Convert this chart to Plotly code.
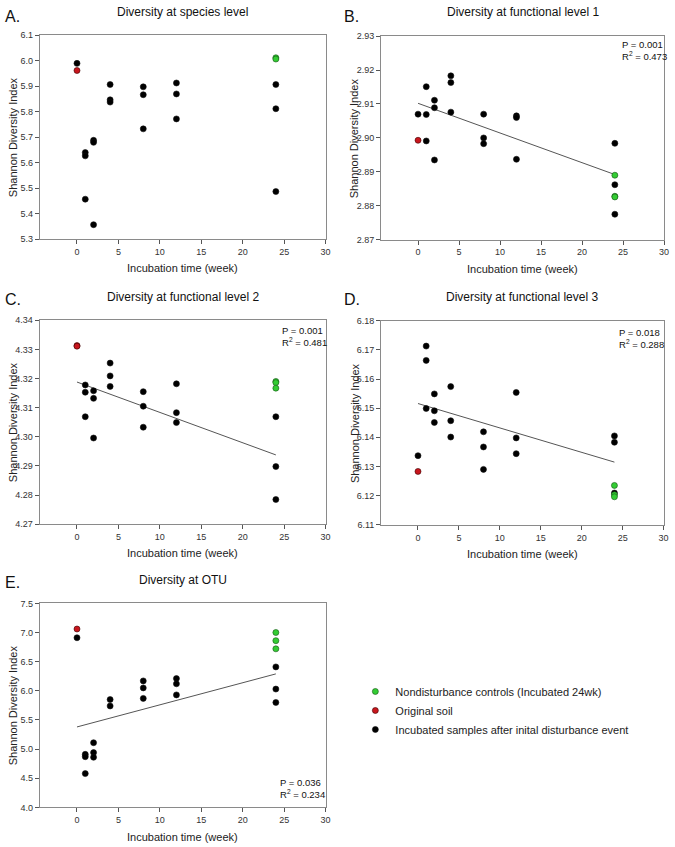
import plotly.graph_objects as go

W, H = 675, 847

# --- data ---
weeks_black = [0, 1, 1, 1, 2, 2, 2, 4, 4, 4, 8, 8, 8, 12, 12, 12, 24, 24, 24]
weeks_otu = [0, 1, 1, 1, 2, 2, 2, 4, 4, 8, 8, 8, 12, 12, 12, 24, 24, 24]
weeks_c = [1, 1, 1, 2, 2, 2, 4, 4, 4, 8, 8, 8, 12, 12, 12, 24, 24, 24]

species_black = [5.990, 5.640, 5.627, 5.457, 5.688, 5.680, 5.357, 5.907, 5.847, 5.838,
                 5.898, 5.867, 5.733, 5.913, 5.870, 5.772, 5.907, 5.812, 5.487]
species_red = [5.962]
species_green = [6.012, 6.007]

func1_black = [2.9070, 2.9151, 2.9069, 2.8991, 2.9111, 2.9089, 2.8935, 2.9183, 2.9163, 2.9076,
               2.9070, 2.9000, 2.8983, 2.9065, 2.9060, 2.8937, 2.8984, 2.8862, 2.8775]
func1_red = [2.8993]
func1_green = [2.8890, 2.8828, 2.8826]
func1_fit = [2.9102, 2.8892]

func2_black = [4.3178, 4.3153, 4.3069, 4.3158, 4.3132, 4.2996, 4.3253, 4.3209, 4.3173,
               4.3155, 4.3105, 4.3033, 4.3182, 4.3083, 4.3049, 4.3069, 4.2898, 4.2785]
func2_red = [4.3313, 4.3311]
func2_green = [4.3190, 4.3186, 4.3167]
func2_fit = [4.3188, 4.2938]

func3_black = [6.1337, 6.1713, 6.1664, 6.1499, 6.1549, 6.1491, 6.1451, 6.1574, 6.1457, 6.1401,
               6.1419, 6.1367, 6.1290, 6.1554, 6.1398, 6.1344, 6.1405, 6.1383, 6.1209]
func3_red = [6.1283]
func3_green = [6.1235, 6.1203, 6.1196]
func3_fit = [6.1516, 6.1315]

otu_black = [6.91, 4.91, 4.87, 4.58, 5.11, 4.94, 4.86, 5.85, 5.74, 6.17, 6.05, 5.87,
             6.21, 6.12, 5.93, 6.41, 6.03, 5.80]
otu_red = [7.06]
otu_green = [7.00, 6.86, 6.72]
otu_fit = [5.38, 6.29]

fit_weeks = [0, 24]

panels = [
    dict(letter="A.", title="Diversity at species level", xpx=(40, 328), ypx=(30.7, 237),
         yr=(5.3, 6.1), dt=0.1, bx=weeks_black, by=species_black,
         red=species_red, green=species_green, fit=None, stats=None),
    dict(letter="B.", title="Diversity at functional level 1", xpx=(384, 669), ypx=(31.5, 237.5),
         yr=(2.87, 2.93), dt=0.01, bx=weeks_black, by=func1_black,
         red=func1_red, green=func1_green, fit=func1_fit, stats=("0.001", "0.473", 625, 46)),
    dict(letter="C.", title="Diversity at functional level 2", xpx=(40, 328), ypx=(319, 525.5),
         yr=(4.27, 4.34), dt=0.01, bx=weeks_c, by=func2_black,
         red=func2_red, green=func2_green, fit=func2_fit, stats=("0.001", "0.481", 282, 335.5)),
    dict(letter="D.", title="Diversity at functional level 3", xpx=(384, 668.5), ypx=(319.5, 526),
         yr=(6.11, 6.18), dt=0.01, bx=weeks_black, by=func3_black,
         red=func3_red, green=func3_green, fit=func3_fit, stats=("0.018", "0.288", 622, 337)),
    dict(letter="E.", title="Diversity at OTU", xpx=(40, 328), ypx=(605.5, 812),
         yr=(4.0, 7.5), dt=0.5, bx=weeks_otu, by=otu_black,
         red=otu_red, green=otu_green, fit=otu_fit, stats=("0.036", "0.234", 280, 793)),
]

GREEN = "#33cc33"
RED = "#c8161d"
FONT = "Liberation Sans, Arial, sans-serif"


def px(x):
    return x / W


def py(y):
    return 1 - y / H


fig = go.Figure()
annotations = []
layout_axes = {}

for i, p in enumerate(panels):
    n = "" if i == 0 else str(i + 1)
    xa, ya = "x" + n, "y" + n
    x0, x1 = p["xpx"]
    top, bot = p["ypx"]

    yfmt = ".2f" if p["dt"] == 0.01 else ".1f"
    layout_axes["xaxis" + n] = dict(
        domain=[px(x0), px(x1)], anchor=ya, range=[-4.5, 30], tickvals=[0, 5, 10, 15, 20, 25, 30],
        showgrid=False, zeroline=False, showline=True, linecolor="#8a8a8a", linewidth=1,
        mirror=True, ticks="outside", ticklen=4, tickcolor="#555", tickwidth=1,
        ticklabeloverflow="allow",
        tickfont=dict(size=9, color="#333", family=FONT))
    layout_axes["yaxis" + n] = dict(
        domain=[py(bot), py(top)], anchor=xa, range=list(p["yr"]), dtick=p["dt"], tick0=p["yr"][0],
        tickformat=yfmt, showgrid=False, zeroline=False, showline=True, linecolor="#8a8a8a",
        linewidth=1, mirror=True, ticks="outside", ticklen=4, tickcolor="#555", tickwidth=1,
        ticklabeloverflow="allow",
        tickfont=dict(size=9, color="#333", family=FONT))

    if p["fit"] is not None:
        fig.add_trace(go.Scatter(x=fit_weeks, y=p["fit"], mode="lines", xaxis=xa, yaxis=ya,
                                 line=dict(color="#555555", width=1), showlegend=False))

    first = i == 0
    fig.add_trace(go.Scatter(x=p["bx"], y=p["by"], mode="markers", xaxis=xa, yaxis=ya,
                             name="Incubated samples after inital disturbance event",
                             legendrank=3, showlegend=first,
                             marker=dict(size=6, color="black", line=dict(color="#111", width=0.6))))
    fig.add_trace(go.Scatter(x=[0] * len(p["red"]), y=p["red"], mode="markers", xaxis=xa, yaxis=ya,
                             name="Original soil", legendrank=2, showlegend=first,
                             marker=dict(size=6, color=RED, line=dict(color="#3a0000", width=0.6))))
    fig.add_trace(go.Scatter(x=[24] * len(p["green"]), y=p["green"], mode="markers", xaxis=xa, yaxis=ya,
                             name="Nondisturbance controls (Incubated 24wk)", legendrank=1,
                             showlegend=first,
                             marker=dict(size=6, color=GREEN, line=dict(color="#145214", width=0.6))))

    # panel title, letter, axis titles
    annotations.append(dict(text=p["title"], x=px((x0 + x1) / 2), y=py(7 if top < 100 else top - 24),
                            xref="paper", yref="paper", showarrow=False, xanchor="center",
                            yanchor="middle", font=dict(size=12, color="#111", family=FONT)))
    lx = 3 if x0 < 100 else 345
    annotations.append(dict(text=p["letter"], x=px(lx), y=py(top - 21 if top > 100 else 12),
                            xref="paper", yref="paper", showarrow=False, xanchor="left",
                            yanchor="middle", font=dict(size=16, color="#111", family=FONT)))
    annotations.append(dict(text="Incubation time (week)", x=px((x0 + x1) / 2), y=py(bot + 29.5),
                            xref="paper", yref="paper", showarrow=False, xanchor="center",
                            yanchor="middle", font=dict(size=11, color="#222", family=FONT)))
    annotations.append(dict(text="Shannon Diversity Index", x=px(x0 - 27), y=py((top + bot) / 2),
                            xref="paper", yref="paper", showarrow=False, textangle=-90,
                            xanchor="center", yanchor="middle",
                            font=dict(size=11, color="#222", family=FONT)))
    if p["stats"] is not None:
        pv, r2, sx, sy = p["stats"]
        annotations.append(dict(text=f"P = {pv}<br>R<sup>2</sup> = {r2}", x=px(sx), y=py(sy),
                                xref="paper", yref="paper", showarrow=False, xanchor="left",
                                yanchor="middle", align="left",
                                font=dict(size=9.5, color="#111", family=FONT)))

fig.update_layout(
    width=W, height=H, margin=dict(l=0, r=0, t=0, b=0),
    paper_bgcolor="white", plot_bgcolor="white",
    annotations=annotations,
    legend=dict(x=px(358), y=py(680), xanchor="left", yanchor="top", bgcolor="rgba(0,0,0,0)",
                font=dict(size=11, color="#222", family=FONT), itemwidth=30,
                tracegroupgap=0),
    **layout_axes,
)

# drop the default 8px body margin so the figure fills the window exactly
fig.write_html("out.html", config={"displayModeBar": False},
               post_script="document.body.style.margin = '0';")
